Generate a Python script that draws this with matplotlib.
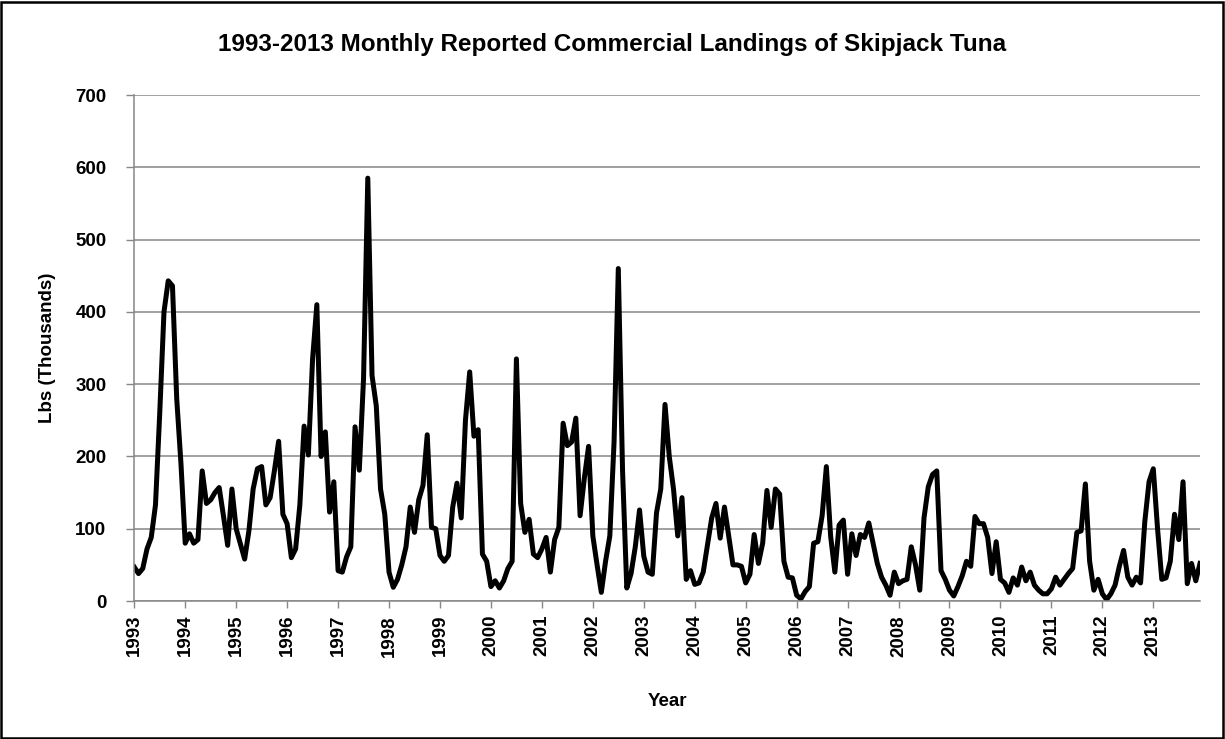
import numpy as np
import matplotlib.pyplot as plt
from matplotlib.patches import Rectangle

plt.rcParams['font.family'] = ['Liberation Sans', 'DejaVu Sans']
plt.rcParams['font.weight'] = 'bold'

# Monthly landings, thousands of lbs (Jan..Dec), one list per year
y1993 = [47, 38, 45, 72, 88, 133, 260, 400, 443, 436, 280, 190]
y1994 = [80, 93, 80, 85, 180, 135, 140, 150, 157, 118, 77, 155]
y1995 = [100, 79, 58, 97, 155, 183, 186, 133, 143, 180, 221, 120]
y1996 = [107, 60, 72, 133, 242, 202, 335, 410, 200, 234, 123, 165]
y1997 = [42, 40, 61, 75, 241, 181, 308, 585, 312, 270, 155, 120]
y1998 = [40, 19, 30, 50, 75, 130, 95, 140, 160, 230, 102, 100]
y1999 = [63, 55, 63, 130, 163, 115, 250, 317, 228, 237, 65, 55]
y2000 = [20, 28, 18, 28, 45, 55, 335, 135, 95, 113, 65, 60]
y2001 = [72, 88, 40, 85, 102, 246, 215, 220, 253, 118, 170, 214]
y2002 = [90, 50, 12, 55, 90, 220, 460, 180, 18, 38, 75, 126]
y2003 = [62, 40, 37, 122, 155, 272, 200, 155, 90, 143, 30, 42]
y2004 = [23, 25, 40, 78, 115, 135, 87, 130, 90, 50, 50, 48]
y2005 = [25, 37, 92, 52, 80, 153, 102, 155, 148, 55, 33, 32]
y2006 = [8, 3, 13, 20, 80, 82, 118, 186, 90, 40, 105, 112]
y2007 = [37, 93, 63, 92, 88, 108, 80, 52, 33, 22, 8, 40]
y2008 = [24, 28, 30, 75, 50, 15, 115, 158, 175, 180, 42, 30]
y2009 = [15, 7, 20, 35, 55, 48, 117, 107, 107, 88, 38, 82]
y2010 = [30, 25, 12, 32, 22, 47, 28, 40, 22, 15, 10, 10]
y2011 = [17, 33, 22, 30, 38, 45, 95, 97, 162, 55, 15, 30]
y2012 = [10, 2, 10, 22, 48, 70, 33, 22, 33, 25, 110, 165]
y2013 = [183, 100, 30, 32, 55, 120, 85, 165, 24, 52, 28, 52]

years = list(range(1993, 2014))
yticks = [0, 100, 200, 300, 400, 500, 600, 700]

landings = np.concatenate([y1993, y1994, y1995, y1996, y1997, y1998, y1999,
                           y2000, y2001, y2002, y2003, y2004, y2005, y2006,
                           y2007, y2008, y2009, y2010, y2011, y2012, y2013])
t = years[0] + np.arange(len(landings)) / 12.0

fig = plt.figure(figsize=(12.25, 7.39), dpi=100)
ax = fig.add_axes([0.1096, 0.1867, 0.8700, 0.6847])

ax.plot(t, landings, color='black', lw=3.6, solid_joinstyle='round')

ax.set_xlim(t[0], t[-1])
ax.set_ylim(0, 700)
ax.set_yticks(yticks)
ax.set_yticklabels([str(v) for v in yticks], fontsize=13.5, fontweight='bold')
ax.set_xticks(years)
ax.set_xticklabels([str(y) for y in years], rotation=90, fontsize=13.5, fontweight='bold')
ax.tick_params(axis='y', length=6, color='#868686', width=1, pad=14)
ax.tick_params(axis='x', length=5, color='#868686', width=1, pad=5)

ax.grid(axis='y', color='#868686', lw=1.1)
ax.set_axisbelow(True)
for s in ['top', 'right']:
    ax.spines[s].set_visible(False)
for s in ['left', 'bottom']:
    ax.spines[s].set_color('#868686')
    ax.spines[s].set_linewidth(1.1)

fig.text(0.5, 1 - 45 / 739, '1993-2013 Monthly Reported Commercial Landings of Skipjack Tuna',
         ha='center', va='center', fontsize=17.5, fontweight='bold')
ax.set_ylabel('Lbs (Thousands)', fontsize=13.5, fontweight='bold', labelpad=14)
ax.set_xlabel('Year', fontsize=13.5, fontweight='bold', labelpad=26)

# outer chart frame
fig.patches.append(Rectangle((0.001, 0.002), 0.997, 0.995, transform=fig.transFigure,
                             fill=False, edgecolor='black', lw=1.8))

fig.savefig('out.png', dpi=100)
